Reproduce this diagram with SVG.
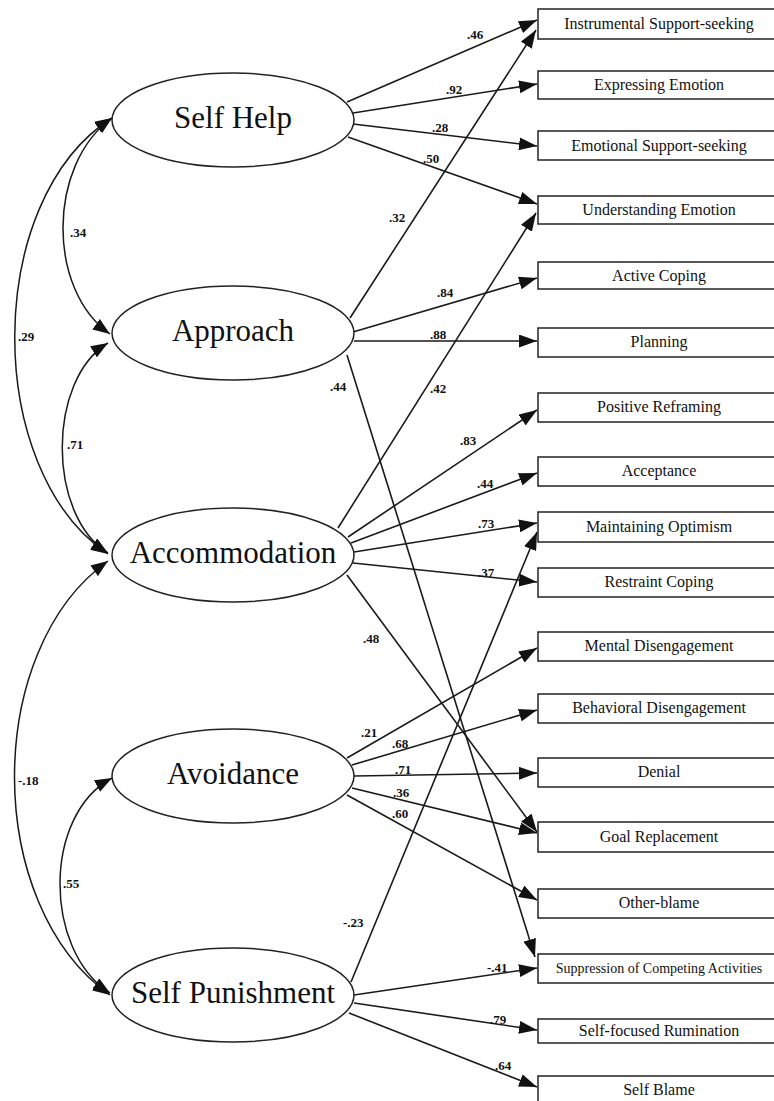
<svg xmlns="http://www.w3.org/2000/svg" width="774" height="1101" viewBox="0 0 774 1101">
<style>
.lat{fill:#fff;stroke:#222;stroke-width:1.5}
.latt{font-family:"Liberation Serif","Times New Roman",serif;font-size:31px;fill:#111;text-anchor:middle}
.box{fill:#fff;stroke:#222;stroke-width:1.5}
.boxt{font-family:"Liberation Serif","Times New Roman",serif;font-size:16px;fill:#111;text-anchor:middle}
.sm{font-size:14px}
.ln{fill:none;stroke:#1a1a1a;stroke-width:1.6;marker-end:url(#ah)}
.cv{fill:none;stroke:#1a1a1a;stroke-width:1.5;marker-end:url(#ah2);marker-start:url(#ah2)}
.lab{font-family:"Liberation Serif","Times New Roman",serif;font-size:13px;font-weight:bold;fill:#111}
</style>
<defs>
<marker id="ah" viewBox="0 0 18 13" refX="18" refY="6.5" markerWidth="18" markerHeight="13" markerUnits="userSpaceOnUse" orient="auto"><path d="M0,0 L18,6.5 L0,13 z" fill="#111"/></marker>
<marker id="ah2" viewBox="0 0 17 13" refX="17" refY="6.5" markerWidth="17" markerHeight="13" markerUnits="userSpaceOnUse" orient="auto-start-reverse"><path d="M0,0 L17,6.5 L0,13 z" fill="#111"/></marker>
</defs>
<rect width="774" height="1101" fill="#fff"/>
<g id="connectors">
<path class="cv" d="M112,118 C47,165 47,290 110,334"/>
<path class="cv" d="M112,118 C-17,200 -17,470 108,554"/>
<path class="cv" d="M108,343 C47,380 47,515 108,553"/>
<path class="cv" d="M108,561 C-17,650 -17,905 110,995"/>
<path class="cv" d="M112,778 C43,815 43,950 110,993"/>
<line class="ln" x1="347" y1="102" x2="537" y2="20"/>
<line class="ln" x1="353" y1="113" x2="537" y2="84"/>
<line class="ln" x1="353" y1="124" x2="537" y2="146"/>
<line class="ln" x1="348" y1="137" x2="537" y2="204"/>
<line class="ln" x1="350" y1="318" x2="536" y2="30"/>
<line class="ln" x1="353" y1="332" x2="537" y2="278"/>
<line class="ln" x1="354" y1="341" x2="537" y2="341"/>
<line class="ln" x1="347" y1="355" x2="535" y2="957"/>
<line class="ln" x1="338" y1="528" x2="536" y2="213"/>
<line class="ln" x1="348" y1="537" x2="537" y2="410"/>
<line class="ln" x1="351" y1="543" x2="537" y2="473"/>
<line class="ln" x1="354" y1="552" x2="537" y2="523"/>
<line class="ln" x1="353" y1="563" x2="537" y2="582"/>
<line class="ln" x1="347" y1="575" x2="537" y2="832"/>
<line class="ln" x1="347" y1="758" x2="537" y2="648"/>
<line class="ln" x1="352" y1="765" x2="537" y2="710"/>
<line class="ln" x1="354" y1="776" x2="537" y2="773"/>
<line class="ln" x1="352" y1="788" x2="537" y2="833"/>
<line class="ln" x1="347" y1="795" x2="537" y2="900"/>
<line class="ln" x1="351" y1="982" x2="537" y2="532"/>
<line class="ln" x1="354" y1="995" x2="537" y2="968"/>
<line class="ln" x1="354" y1="1003" x2="537" y2="1030"/>
<line class="ln" x1="349" y1="1013" x2="537" y2="1087"/>
</g>
<g id="labels">
<text class="lab" x="467" y="39">.46</text>
<text class="lab" x="446" y="94">.92</text>
<text class="lab" x="432" y="132">.28</text>
<text class="lab" x="423" y="163">.50</text>
<text class="lab" x="389" y="222">.32</text>
<text class="lab" x="70" y="237">.34</text>
<text class="lab" x="18" y="341">.29</text>
<text class="lab" x="437" y="297">.84</text>
<text class="lab" x="430" y="339">.88</text>
<text class="lab" x="330" y="391">.44</text>
<text class="lab" x="430" y="393">.42</text>
<text class="lab" x="67" y="449">.71</text>
<text class="lab" x="460" y="445">.83</text>
<text class="lab" x="477" y="488">.44</text>
<text class="lab" x="478" y="528">.73</text>
<text class="lab" x="478" y="577">.37</text>
<text class="lab" x="363" y="643">.48</text>
<text class="lab" x="361" y="737">.21</text>
<text class="lab" x="392" y="748">.68</text>
<text class="lab" x="395" y="774">.71</text>
<text class="lab" x="393" y="797">.36</text>
<text class="lab" x="392" y="818">.60</text>
<text class="lab" x="18" y="785">-.18</text>
<text class="lab" x="63" y="888">.55</text>
<text class="lab" x="343" y="927">-.23</text>
<text class="lab" x="487" y="972">-.41</text>
<text class="lab" x="490" y="1024">.79</text>
<text class="lab" x="495" y="1070">.64</text>
</g>
<g id="self-help"><ellipse class="lat" cx="233" cy="120" rx="121" ry="47"/><text class="latt" x="233" y="128">Self Help</text></g>
<g id="approach"><ellipse class="lat" cx="233" cy="333" rx="121" ry="47"/><text class="latt" x="233" y="341">Approach</text></g>
<g id="accommodation"><ellipse class="lat" cx="233" cy="555" rx="121" ry="47"/><text class="latt" x="233" y="563">Accommodation</text></g>
<g id="avoidance"><ellipse class="lat" cx="233" cy="776" rx="121" ry="47"/><text class="latt" x="233" y="784">Avoidance</text></g>
<g id="self-punishment"><ellipse class="lat" cx="233" cy="995" rx="121" ry="47"/><text class="latt" x="233" y="1003">Self Punishment</text></g>
<g id="instrumental"><rect class="box" x="538" y="9" width="250" height="30"/><text class="boxt" x="659" y="29">Instrumental Support-seeking</text></g>
<g id="expressing"><rect class="box" x="538" y="71" width="250" height="28"/><text class="boxt" x="659" y="90">Expressing Emotion</text></g>
<g id="emotional"><rect class="box" x="538" y="131" width="250" height="29"/><text class="boxt" x="659" y="151">Emotional Support-seeking</text></g>
<g id="understanding"><rect class="box" x="538" y="196" width="250" height="28"/><text class="boxt" x="659" y="215">Understanding Emotion</text></g>
<g id="active"><rect class="box" x="538" y="262" width="250" height="27"/><text class="boxt" x="659" y="281">Active Coping</text></g>
<g id="planning"><rect class="box" x="538" y="328" width="250" height="29"/><text class="boxt" x="659" y="347">Planning</text></g>
<g id="positive"><rect class="box" x="538" y="393" width="250" height="29"/><text class="boxt" x="659" y="412">Positive Reframing</text></g>
<g id="acceptance"><rect class="box" x="538" y="457" width="250" height="29"/><text class="boxt" x="659" y="476">Acceptance</text></g>
<g id="optimism"><rect class="box" x="538" y="512" width="250" height="30"/><text class="boxt" x="659" y="532">Maintaining Optimism</text></g>
<g id="restraint"><rect class="box" x="538" y="568" width="250" height="29"/><text class="boxt" x="659" y="587">Restraint Coping</text></g>
<g id="mental"><rect class="box" x="538" y="632" width="250" height="29"/><text class="boxt" x="659" y="651">Mental Disengagement</text></g>
<g id="behavioral"><rect class="box" x="538" y="694" width="250" height="29"/><text class="boxt" x="659" y="713">Behavioral Disengagement</text></g>
<g id="denial"><rect class="box" x="538" y="758" width="250" height="29"/><text class="boxt" x="659" y="777">Denial</text></g>
<g id="goal"><rect class="box" x="538" y="822" width="250" height="30"/><text class="boxt" x="659" y="842">Goal Replacement</text></g>
<g id="other-blame"><rect class="box" x="538" y="889" width="250" height="29"/><text class="boxt" x="659" y="908">Other-blame</text></g>
<g id="suppression"><rect class="box" x="538" y="954" width="250" height="29"/><text class="boxt sm" x="659" y="973">Suppression of Competing Activities</text></g>
<g id="self-focused"><rect class="box" x="538" y="1019" width="250" height="24"/><text class="boxt" x="659" y="1036">Self-focused Rumination</text></g>
<g id="self-blame"><rect class="box" x="538" y="1076" width="250" height="40"/><text class="boxt" x="659" y="1095">Self Blame</text></g>
</svg>
